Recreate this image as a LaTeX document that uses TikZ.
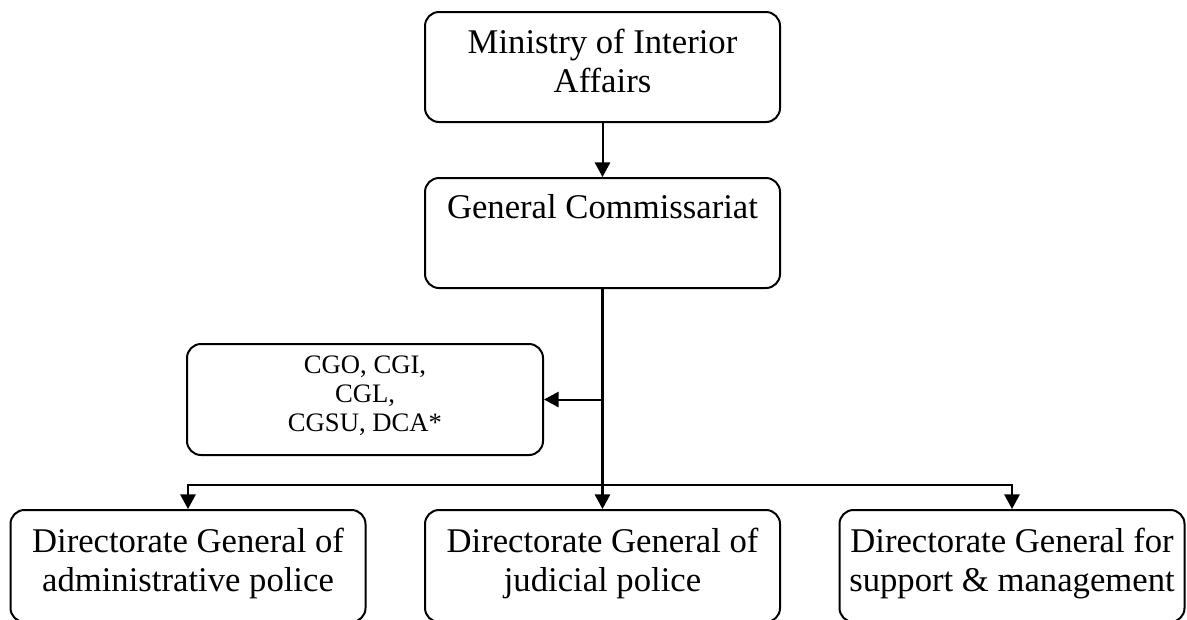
\documentclass[tikz,border=0pt]{standalone}
\usepackage{fontspec}
\setmainfont{Liberation Serif}
\usetikzlibrary{arrows.meta}

\tikzset{
  orgbox/.style={draw, line width=1.5pt, rounded corners=10.5pt, align=center,
    minimum width=266.25pt, minimum height=82.5pt, inner sep=0pt, text depth=10pt,
    font=\fontsize{26}{29.3}\selectfont},
  subbox/.style={orgbox, minimum width=267pt, minimum height=83.25pt, text depth=9pt,
    font=\fontsize{20}{21.8}\selectfont},
  link/.style={line width=1.5pt, -{Triangle[length=11pt,width=11.5pt]}},
  trunk/.style={line width=2.25pt}
}

\begin{document}
\begin{tikzpicture}[x=0.75pt, y=-0.75pt]
        \clip (0,0) rectangle (1187,619);

        \node[orgbox] (ministry) at (602.5,67) {Ministry of Interior\\Affairs};
        \node[orgbox] (commissariat) at (602.5,233) {General Commissariat\\\mbox{}};
        \node[subbox] (staff) at (365,399.5) {CGO, CGI,\\CGL,\\CGSU, DCA*};

        \node[orgbox, minimum height=84pt] (dgadmin) at (188,566) {Directorate General of\\administrative police};
        \node[orgbox, minimum height=84pt] (dgjud) at (602.5,566) {Directorate General of\\judicial police};
        \node[orgbox, minimum width=258.75pt, minimum height=84pt] (dgsupport) at (1012,566) {Directorate General for\\support \& management};

        \coordinate (branch) at (commissariat.south |- staff.east);
        \coordinate (split) at (602.5,485);

        \draw[link] (ministry) -- (commissariat);
        \draw[trunk] (commissariat.south) -- (split);
        \draw[link] (branch) -- (staff.east);
        \draw[link] (split) -| (dgadmin.north);
        \draw[link] (split) -| (dgsupport.north);
        \draw[link] (split) -- (dgjud.north);
        \draw[trunk] (split) -- ([yshift=8pt]dgjud.north);
\end{tikzpicture}
\end{document}
